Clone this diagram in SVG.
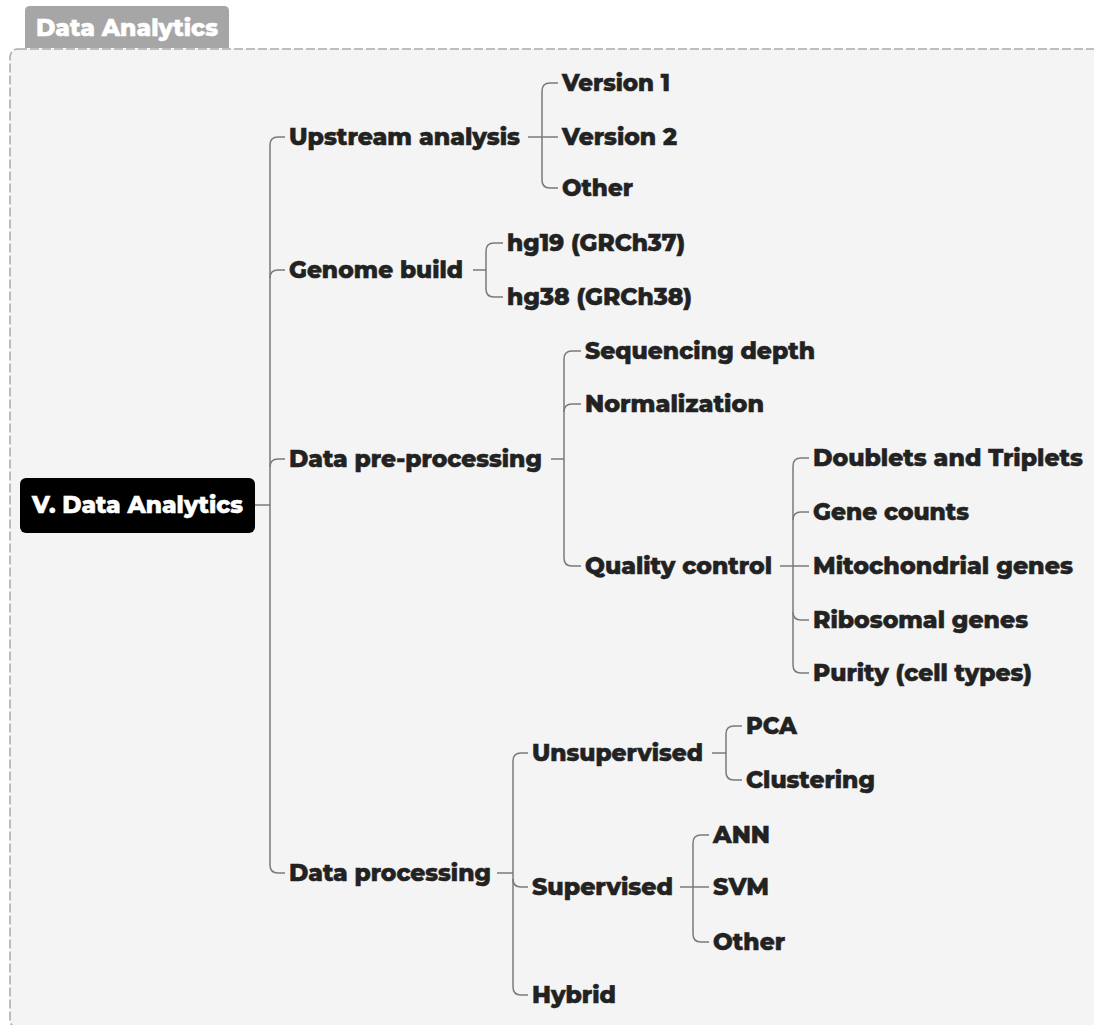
<svg xmlns="http://www.w3.org/2000/svg" width="1094" height="1025" viewBox="0 0 1094 1025">
<style>
text{font-family:"Montserrat","Open Sans","Liberation Sans",sans-serif;font-weight:800;font-size:22.5px;fill:#222;stroke:#222;stroke-width:0.5;}
.w{fill:#fff;stroke:#fff;}
.c path{fill:none;stroke:#7a7a7a;stroke-width:1.5;}
</style>
<rect x="0" y="0" width="1094" height="1025" fill="#fff"/>
<g id="frame">
<path d="M25 48 V11 Q25 6 30 6 H224 Q229 6 229 11 V48 Z" fill="#a6a6a6"/>
<text class="w" x="36" y="36" textLength="182" lengthAdjust="spacingAndGlyphs">Data Analytics</text>
<rect x="10" y="49" width="1100" height="979" rx="8" fill="#f4f4f4" stroke="#aaa" stroke-width="1.5" stroke-dasharray="9 3"/>
</g>
<g class="c" id="connectors">
<path d="M255 505 H270"/>
<path d="M270 145 V865"/>
<path d="M270 145 Q270 137 278 137 H285"/>
<path d="M270 278 Q270 270 278 270 H285"/>
<path d="M270 467 Q270 459 278 459 H285"/>
<path d="M270 865 Q270 873 278 873 H285"/>
<path d="M528 137 H542"/>
<path d="M542 91 V180"/>
<path d="M542 91 Q542 83 550 83 H558"/>
<path d="M542 137 H558"/>
<path d="M542 180 Q542 188 550 188 H558"/>
<path d="M473 270 H486"/>
<path d="M486 251 V289"/>
<path d="M486 251 Q486 243 494 243 H503"/>
<path d="M486 289 Q486 297 494 297 H503"/>
<path d="M551 459 H564"/>
<path d="M564 359 V558"/>
<path d="M564 359 Q564 351 572 351 H581"/>
<path d="M564 412 Q564 404 572 404 H581"/>
<path d="M564 558 Q564 566 572 566 H581"/>
<path d="M780 566 H793"/>
<path d="M793 466 V665"/>
<path d="M793 466 Q793 458 801 458 H809"/>
<path d="M793 520 Q793 512 801 512 H809"/>
<path d="M793 566 H809"/>
<path d="M793 612 Q793 620 801 620 H809"/>
<path d="M793 665 Q793 673 801 673 H809"/>
<path d="M497 873 H513"/>
<path d="M513 761 V987"/>
<path d="M513 761 Q513 753 521 753 H528"/>
<path d="M513 879 Q513 887 521 887 H528"/>
<path d="M513 987 Q513 995 521 995 H528"/>
<path d="M712 753 H726"/>
<path d="M726 734 V772"/>
<path d="M726 734 Q726 726 734 726 H742"/>
<path d="M726 772 Q726 780 734 780 H742"/>
<path d="M680 887 H693"/>
<path d="M693 843 V934"/>
<path d="M693 843 Q693 835 701 835 H709"/>
<path d="M693 887 H709"/>
<path d="M693 934 Q693 942 701 942 H709"/>
</g>
<g id="root">
<rect x="20" y="478" width="235" height="55" rx="6" fill="#000"/>
<text class="w" x="32" y="513" style="font-size:23px" textLength="211" lengthAdjust="spacingAndGlyphs">V. Data Analytics</text>
</g>
<g id="upstream"><text x="289" y="145" textLength="231" lengthAdjust="spacingAndGlyphs">Upstream analysis</text></g>
<g id="v1"><text x="562" y="91" textLength="108" lengthAdjust="spacingAndGlyphs">Version 1</text></g>
<g id="v2"><text x="562" y="145" textLength="115" lengthAdjust="spacingAndGlyphs">Version 2</text></g>
<g id="other1"><text x="562" y="196" textLength="71" lengthAdjust="spacingAndGlyphs">Other</text></g>
<g id="genome"><text x="289" y="278" textLength="174" lengthAdjust="spacingAndGlyphs">Genome build</text></g>
<g id="hg19"><text x="507" y="251" textLength="178" lengthAdjust="spacingAndGlyphs">hg19 (GRCh37)</text></g>
<g id="hg38"><text x="507" y="305" textLength="185" lengthAdjust="spacingAndGlyphs">hg38 (GRCh38)</text></g>
<g id="prep"><text x="289" y="467" textLength="253" lengthAdjust="spacingAndGlyphs">Data pre-processing</text></g>
<g id="seqdepth"><text x="585" y="359" textLength="230" lengthAdjust="spacingAndGlyphs">Sequencing depth</text></g>
<g id="norm"><text x="585" y="412" textLength="179" lengthAdjust="spacingAndGlyphs">Normalization</text></g>
<g id="qc"><text x="585" y="574" textLength="187" lengthAdjust="spacingAndGlyphs">Quality control</text></g>
<g id="doublets"><text x="813" y="466" textLength="270" lengthAdjust="spacingAndGlyphs">Doublets and Triplets</text></g>
<g id="genecounts"><text x="813" y="520" textLength="156" lengthAdjust="spacingAndGlyphs">Gene counts</text></g>
<g id="mito"><text x="813" y="574" textLength="260" lengthAdjust="spacingAndGlyphs">Mitochondrial genes</text></g>
<g id="ribo"><text x="813" y="628" textLength="215" lengthAdjust="spacingAndGlyphs">Ribosomal genes</text></g>
<g id="purity"><text x="813" y="681" textLength="219" lengthAdjust="spacingAndGlyphs">Purity (cell types)</text></g>
<g id="proc"><text x="289" y="881" textLength="202" lengthAdjust="spacingAndGlyphs">Data processing</text></g>
<g id="unsup"><text x="532" y="761" textLength="171" lengthAdjust="spacingAndGlyphs">Unsupervised</text></g>
<g id="pca"><text x="746" y="734" textLength="51" lengthAdjust="spacingAndGlyphs">PCA</text></g>
<g id="clust"><text x="746" y="788" textLength="129" lengthAdjust="spacingAndGlyphs">Clustering</text></g>
<g id="sup"><text x="532" y="895" textLength="141" lengthAdjust="spacingAndGlyphs">Supervised</text></g>
<g id="ann"><text x="713" y="843" textLength="57" lengthAdjust="spacingAndGlyphs">ANN</text></g>
<g id="svm"><text x="713" y="895" textLength="56" lengthAdjust="spacingAndGlyphs">SVM</text></g>
<g id="other2"><text x="713" y="950" textLength="72" lengthAdjust="spacingAndGlyphs">Other</text></g>
<g id="hybrid"><text x="532" y="1003" textLength="84" lengthAdjust="spacingAndGlyphs">Hybrid</text></g>
</svg>
